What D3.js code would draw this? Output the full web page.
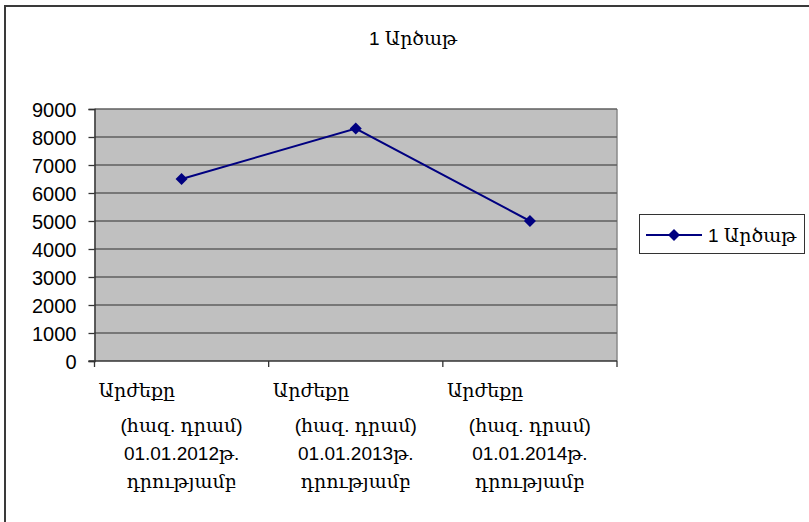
<!DOCTYPE html>
<html><head><meta charset="utf-8">
<script src="https://cdn.jsdelivr.net/npm/d3@7"></script>
<style>
html,body{margin:0;padding:0;background:#fff;}
svg{display:block;}
text{font-family:"Liberation Sans","DejaVu Serif",sans-serif;fill:#000;}
</style></head>
<body>
<svg id="chart" width="809" height="522"></svg>
<script>
const title = "1 Արծաթ";
const seriesName = "1 Արծաթ";
const categories = ["01.01.2012", "01.01.2013", "01.01.2014"];
const categoryLabels = [
  ["Արժեքը", "(հազ. դրամ)", "01.01.2012թ.", "դրությամբ"],
  ["Արժեքը", "(հազ. դրամ)", "01.01.2013թ.", "դրությամբ"],
  ["Արժեքը", "(հազ. դրամ)", "01.01.2014թ.", "դրությամբ"]
];
const values = [6500, 8300, 5000];
const yTicks = [0, 1000, 2000, 3000, 4000, 5000, 6000, 7000, 8000, 9000];

const svg = d3.select("#chart");
const plot = {left: 94.5, right: 617, top: 109, bottom: 361};

// outer border (only top and left visible)
svg.append("rect").attr("x", 5).attr("y", 6).attr("width", 900).attr("height", 600)
  .attr("fill", "#fff").attr("stroke", "#3a3a3a").attr("stroke-width", 2);

const x = d3.scaleBand().domain(categories).range([plot.left, plot.right]).paddingInner(0).paddingOuter(0);
const y = d3.scaleLinear().domain([0, 9000]).range([plot.bottom, plot.top]);

// plot background
svg.append("rect").attr("x", plot.left).attr("y", plot.top)
  .attr("width", plot.right - plot.left).attr("height", plot.bottom - plot.top)
  .attr("fill", "#c0c0c0");
// right border of plot
svg.append("line").attr("x1", plot.right).attr("x2", plot.right).attr("y1", plot.top).attr("y2", plot.bottom)
  .attr("stroke", "#8a8a8a").attr("stroke-width", 1.5);

// gridlines
svg.append("g").selectAll("line").data(yTicks.filter(d => d > 0)).join("line")
  .attr("x1", plot.left).attr("x2", plot.right)
  .attr("y1", d => y(d)).attr("y2", d => y(d))
  .attr("stroke", "#5f5f5f").attr("stroke-width", 1.6);

// y axis
const yAxis = d3.axisLeft(y).tickValues(yTicks).tickSize(6).tickPadding(12).tickFormat(d3.format("d"));
const gy = svg.append("g").attr("transform", `translate(${plot.left},0)`).call(yAxis);
gy.select(".domain").attr("stroke", "#333").attr("stroke-width", 1.5);
gy.selectAll(".tick line").attr("stroke", "#333").attr("stroke-width", 1.3);
gy.selectAll(".tick text").attr("font-size", 20).attr("font-family", "Liberation Sans").attr("dy", "0.36em");

// x axis line + ticks at category boundaries
svg.append("line").attr("x1", plot.left - 6).attr("x2", plot.right).attr("y1", plot.bottom).attr("y2", plot.bottom)
  .attr("stroke", "#333").attr("stroke-width", 1.6);
const bounds = categories.map(c => x(c)).concat([x(categories[categories.length - 1]) + x.bandwidth()]);
svg.append("g").selectAll("line").data(bounds).join("line")
  .attr("x1", d => d).attr("x2", d => d).attr("y1", plot.bottom).attr("y2", plot.bottom + 6)
  .attr("stroke", "#333").attr("stroke-width", 1.3);

// category labels
const lineY = [397, 432, 460, 488];
const gl = svg.append("g");
categoryLabels.forEach((lines, i) => {
  const cx = x(categories[i]) + x.bandwidth() / 2;
  lines.forEach((t, j) => {
    gl.append("text")
      .attr("x", j === 0 ? cx - 83 : cx)
      .attr("y", lineY[j])
      .attr("text-anchor", j === 0 ? "start" : "middle")
      .attr("font-size", 19)
      .text(t);
  });
});

// line
const cxOf = (d, i) => x(categories[i]) + x.bandwidth() / 2;
svg.append("path").datum(values)
  .attr("d", d3.line().x(cxOf).y(d => y(d)))
  .attr("fill", "none").attr("stroke", "#000080").attr("stroke-width", 2);
svg.append("g").selectAll("path").data(values).join("path")
  .attr("transform", (d, i) => `translate(${cxOf(d, i)},${y(d)})`)
  .attr("d", "M0,-6L6,0L0,6L-6,0Z")
  .attr("fill", "#000080");

// title
svg.append("text").attr("x", 413).attr("y", 45).attr("text-anchor", "middle")
  .attr("font-size", 19).text(title);

// legend
const lg = svg.append("g");
lg.append("rect").attr("x", 639.5).attr("y", 214.5).attr("width", 165).attr("height", 39)
  .attr("fill", "#fff").attr("stroke", "#333").attr("stroke-width", 1);
lg.append("line").attr("x1", 646).attr("x2", 702).attr("y1", 235).attr("y2", 235)
  .attr("stroke", "#000080").attr("stroke-width", 2);
lg.append("path").attr("transform", "translate(674,235)").attr("d", "M0,-6L6,0L0,6L-6,0Z").attr("fill", "#000080");
lg.append("text").attr("x", 708).attr("y", 242).attr("font-size", 19).text(seriesName);
</script>
</body></html>
